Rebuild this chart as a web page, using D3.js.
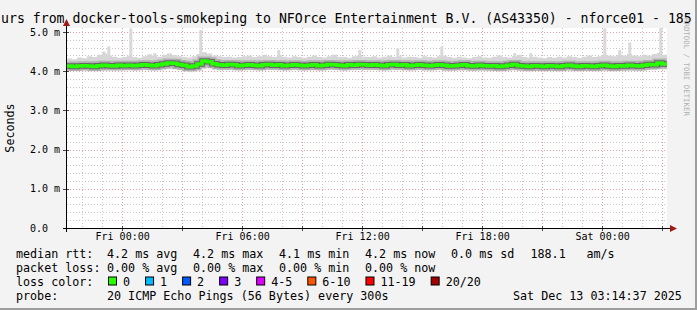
<!DOCTYPE html>
<html>
<head>
<meta charset="utf-8">
<script src="https://cdn.jsdelivr.net/npm/d3@7/dist/d3.min.js"></script>
<style>
body { margin: 0; background: #f3f3f3; }
text { font-family: "DejaVu Sans Mono", monospace; }
</style>
</head>
<body>
<script>
var width = 697;
var height = 310;
var plot = {left: 67, right: 667, top: 28, bottom: 228};

// time window: 30 hours ending at the graph timestamp
var endTime = new Date(2025, 11, 13, 3, 14, 37);
var startTime = new Date(endTime.getTime() - 30 * 3600 * 1000);
var binMinutes = 15;

// median rtt per 15 min bin (ms)
var median = [
  4.13,4.12,4.13,4.14,4.13,4.12,4.14,4.15,4.14,4.13,4.15,4.14,
  4.15,4.14,4.15,4.16,4.15,4.14,4.16,4.18,4.21,4.20,4.17,4.15,
  4.11,4.13,4.18,4.26,4.24,4.19,4.16,4.15,4.17,4.16,4.14,4.15,
  4.16,4.15,4.14,4.16,4.17,4.15,4.16,4.14,4.15,4.16,4.15,4.14,
  4.15,4.16,4.14,4.15,4.17,4.16,4.15,4.14,4.16,4.15,4.17,4.16,
  4.15,4.16,4.15,4.14,4.16,4.17,4.15,4.16,4.14,4.15,4.16,4.15,
  4.14,4.15,4.16,4.15,4.13,4.14,4.15,4.16,4.14,4.13,4.15,4.14,
  4.13,4.14,4.12,4.13,4.15,4.17,4.14,4.13,4.12,4.14,4.13,4.12,
  4.14,4.13,4.12,4.14,4.15,4.13,4.12,4.14,4.13,4.12,4.14,4.15,
  4.13,4.12,4.14,4.13,4.15,4.14,4.13,4.15,4.17,4.16,4.21,4.18
];

// upper edge of the smoke (ms)
var smokeHi = [
  4.32,4.30,4.35,4.33,4.38,4.36,4.42,4.45,4.40,4.37,4.34,4.36,
  4.40,4.36,4.34,4.38,4.43,4.40,4.37,4.42,4.45,4.41,4.38,4.36,
  4.35,4.38,4.44,4.48,4.45,4.40,4.38,4.36,4.37,4.35,4.36,4.38,
  4.40,4.36,4.38,4.42,4.38,4.36,4.40,4.37,4.35,4.38,4.36,4.34,
  4.37,4.40,4.36,4.35,4.38,4.42,4.37,4.36,4.34,4.38,4.40,4.37,
  4.36,4.38,4.35,4.37,4.40,4.36,4.38,4.35,4.37,4.36,4.34,4.38,
  4.36,4.35,4.38,4.40,4.36,4.34,4.37,4.35,4.33,4.36,4.38,4.35,
  4.34,4.37,4.40,4.36,4.35,4.38,4.42,4.36,4.34,4.37,4.35,4.33,
  4.36,4.34,4.37,4.35,4.38,4.36,4.34,4.37,4.40,4.36,4.38,4.42,
  4.40,4.38,4.42,4.40,4.44,4.40,4.38,4.42,4.40,4.44,4.46,4.42
];

// lower edge of the smoke (ms)
var smokeLo = [
  4.02,4.03,4.01,4.02,4.00,4.03,4.02,4.01,4.03,4.02,4.04,4.02,
  4.03,4.01,4.02,4.04,4.02,4.01,4.03,4.05,4.06,4.04,4.02,4.00,
  3.98,4.00,4.04,4.10,4.08,4.04,4.02,4.03,4.04,4.02,4.01,4.03,
  4.02,4.03,4.01,4.03,4.04,4.02,4.03,4.01,4.02,4.04,4.02,4.01,
  4.02,4.03,4.01,4.02,4.04,4.03,4.02,4.01,4.03,4.02,4.04,4.03,
  4.02,4.03,4.02,4.01,4.03,4.04,4.02,4.03,4.01,4.02,4.03,4.02,
  4.01,4.02,4.03,4.02,4.00,4.01,4.02,4.03,4.01,4.00,4.02,4.01,
  4.00,4.01,3.99,4.00,4.02,4.03,4.01,4.00,3.99,4.01,4.00,3.99,
  4.01,4.00,3.99,4.01,4.02,4.00,3.99,4.01,4.00,3.99,4.01,4.02,
  4.00,3.99,4.01,4.00,4.02,4.01,4.00,4.02,4.04,4.03,4.07,4.04
];

// single slow pings sticking out of the smoke
var spikes = [
  ["2025-12-11T23:05", 4.50], ["2025-12-11T23:20", 4.63],
  ["2025-12-12T00:26", 5.09], ["2025-12-12T01:38", 4.46],
  ["2025-12-12T03:56", 5.05], ["2025-12-12T07:50", 4.54],
  ["2025-12-12T11:53", 4.54], ["2025-12-12T13:47", 4.58],
  ["2025-12-12T15:59", 4.63], ["2025-12-12T19:38", 4.46],
  ["2025-12-12T20:26", 4.46], ["2025-12-13T00:08", 5.09],
  ["2025-12-13T00:53", 4.54], ["2025-12-13T01:23", 4.73],
  ["2025-12-13T02:56", 5.10]
];

var yTicks = [0, 1, 2, 3, 4, 5];
var statNames = ["avg", "max", "min", "now"];
var rttStats = [4.2, 4.2, 4.1, 4.2];
var lossStats = [0, 0, 0, 0];
var rttSd = 0.0;
var rttAms = 188.1;
var lossLabels = ["0", "1", "2", "3", "4-5", "6-10", "11-19", "20/20"];
var lossColors = ["#26ff00", "#00b8ff", "#0059ff", "#7e00ff", "#dd00ff", "#ff5500", "#ff0000", "#a10000"];

var parseTime = d3.timeParse("%Y-%m-%dT%H:%M");

var svg = d3.select("body")
  .append("svg")
  .attr("width", width)
  .attr("height", height);

// frame
svg.append("rect").attr("width", width).attr("height", height).attr("fill", "#f3f3f3");
svg.append("rect").attr("x", width - 2).attr("y", 0).attr("width", 2).attr("height", height).attr("fill", "#9e9e9e");
svg.append("rect").attr("x", 0).attr("y", height - 2).attr("width", width).attr("height", 2).attr("fill", "#9e9e9e");

var x = d3.scaleTime().domain([startTime, endTime]).range([plot.left, plot.right]);
var y = d3.scaleLinear().domain([0, 5.1]).range([plot.bottom, plot.top]);

svg.append("rect")
  .attr("x", plot.left).attr("y", plot.top)
  .attr("width", plot.right - plot.left).attr("height", plot.bottom - plot.top)
  .attr("fill", "white");

// grid
var grid = svg.append("g").attr("class", "grid").attr("shape-rendering", "crispEdges");
var hours = d3.timeHour.range(startTime, endTime);

grid.selectAll(".vminor")
  .data(hours.filter(d => d.getHours() % 3 != 0))
  .enter().append("line")
  .attr("x1", d => Math.round(x(d)) + 0.5).attr("x2", d => Math.round(x(d)) + 0.5)
  .attr("y1", plot.top).attr("y2", plot.bottom)
  .attr("stroke", "#c8c8c8").attr("stroke-dasharray", "1,2");

grid.selectAll(".hminor")
  .data(d3.range(1, 26).filter(i => i % 5 != 0).map(i => i * 0.2))
  .enter().append("line")
  .attr("x1", plot.left).attr("x2", plot.right)
  .attr("y1", d => Math.round(y(d)) + 0.5).attr("y2", d => Math.round(y(d)) + 0.5)
  .attr("stroke", "#c8c8c8").attr("stroke-dasharray", "1,2");

grid.selectAll(".vmajor")
  .data(hours.filter(d => d.getHours() % 3 == 0))
  .enter().append("line")
  .attr("x1", d => Math.round(x(d)) + 0.5).attr("x2", d => Math.round(x(d)) + 0.5)
  .attr("y1", plot.top).attr("y2", plot.bottom)
  .attr("stroke", "#eaa0a0").attr("stroke-dasharray", "1,2");

grid.selectAll(".hmajor")
  .data(yTicks.filter(d => d > 0))
  .enter().append("line")
  .attr("x1", plot.left).attr("x2", plot.right)
  .attr("y1", d => Math.round(y(d)) + 0.5).attr("y2", d => Math.round(y(d)) + 0.5)
  .attr("stroke", "#eaa0a0").attr("stroke-dasharray", "1,2");

// bins
var bins = median.map(function(m, i) {
  return {t: new Date(startTime.getTime() + i * binMinutes * 60000), m: m, hi: smokeHi[i], lo: smokeLo[i]};
});
var last = bins[bins.length - 1];
bins.push({t: endTime, m: last.m, hi: last.hi, lo: last.lo});

// spikes
svg.append("g").selectAll("rect")
  .data(spikes)
  .enter().append("rect")
  .attr("x", d => x(parseTime(d[0])) - 1.5)
  .attr("width", 3)
  .attr("y", d => y(d[1]))
  .attr("height", d => y(4.2) - y(d[1]))
  .attr("fill", "#d9d9d9");

// smoke
var smoke = d3.area()
  .curve(d3.curveStepAfter)
  .x(d => x(d.t))
  .y0(d => y(d.lo))
  .y1(d => y(d.hi));

svg.append("path").datum(bins).attr("d", smoke).attr("fill", "#d6d6d6");

var medLine = d3.line()
  .curve(d3.curveStepAfter)
  .x(d => x(d.t))
  .y(d => y(d.m));

svg.append("path").datum(bins).attr("d", medLine)
  .attr("fill", "none").attr("stroke", "#b0b0b0").attr("stroke-width", 9);
svg.append("path").datum(bins).attr("d", medLine)
  .attr("fill", "none").attr("stroke", "#666").attr("stroke-width", 5.5);
svg.append("path").datum(bins).attr("d", medLine)
  .attr("fill", "none").attr("stroke", lossColors[0]).attr("stroke-width", 3.5);

// axes
var xAxis = d3.axisBottom(x)
  .ticks(d3.timeHour.every(6))
  .tickFormat(d3.timeFormat("%a %H:%M"))
  .tickSize(0)
  .tickPadding(5);

var gx = svg.append("g")
  .attr("transform", "translate(0," + plot.bottom + ")")
  .call(xAxis);
gx.select(".domain").remove();
gx.selectAll("text").attr("font-family", "DejaVu Sans Mono").attr("font-size", 10).attr("fill", "#000");

var yAxis = d3.axisLeft(y)
  .tickValues(yTicks)
  .tickFormat(d => d == 0 ? "0.0" : d.toFixed(1) + " m")
  .tickSize(0)
  .tickPadding(0);

var gy = svg.append("g")
  .attr("transform", "translate(30,0)")
  .call(yAxis);
gy.select(".domain").remove();
gy.selectAll("text")
  .attr("x", 0)
  .attr("text-anchor", "start")
  .attr("font-family", "DejaVu Sans Mono").attr("font-size", 10).attr("fill", "#000");

// major tick marks
svg.append("g").selectAll("line")
  .data(hours.filter(d => d.getHours() % 3 == 0))
  .enter().append("line")
  .attr("x1", d => Math.round(x(d)) + 0.5).attr("x2", d => Math.round(x(d)) + 0.5)
  .attr("y1", plot.bottom - 2).attr("y2", plot.bottom + 3)
  .attr("stroke", "#444");
svg.append("g").selectAll("line")
  .data(yTicks)
  .enter().append("line")
  .attr("x1", plot.left - 4).attr("x2", plot.left + 2)
  .attr("y1", d => Math.round(y(d)) + 0.5).attr("y2", d => Math.round(y(d)) + 0.5)
  .attr("stroke", "#444");

// axis lines with arrows
svg.append("line")
  .attr("x1", plot.left - 4).attr("x2", plot.right + 3)
  .attr("y1", plot.bottom + 0.5).attr("y2", plot.bottom + 0.5)
  .attr("stroke", "#000");
svg.append("line")
  .attr("x1", plot.left - 0.5).attr("x2", plot.left - 0.5)
  .attr("y1", plot.bottom + 4).attr("y2", plot.top - 3)
  .attr("stroke", "#000");
svg.append("path")
  .attr("d", "M" + (plot.right + 3) + "," + (plot.bottom - 3) + "L" + (plot.right + 10) + "," + (plot.bottom + 0.5) + "L" + (plot.right + 3) + "," + (plot.bottom + 4) + "Z")
  .attr("fill", "#a01818");
svg.append("path")
  .attr("d", "M" + (plot.left - 4) + "," + (plot.top - 2) + "L" + (plot.left - 0.5) + "," + (plot.top - 9) + "L" + (plot.left + 3) + "," + (plot.top - 2) + "Z")
  .attr("fill", "#a01818");

// title (wider than the canvas, clipped on both sides)
svg.append("text")
  .attr("x", 1).attr("y", 23)
  .attr("font-size", 13.2)
  .attr("xml:space", "preserve")
  .text("urs from docker-tools-smokeping to NFOrce Entertainment B.V. (AS43350) - nforce01 - 185");

svg.append("text")
  .attr("transform", "translate(14," + ((plot.top + plot.bottom) / 2) + ")rotate(-90)")
  .attr("text-anchor", "middle")
  .attr("font-size", 11.7)
  .text("Seconds");

svg.append("text")
  .attr("transform", "translate(683.5,18)rotate(90)")
  .attr("font-size", 7.4)
  .attr("fill", "#b0b0b0")
  .text("RRDTOOL / TOBI OETIKER");

// legend
var legend = svg.append("g").attr("font-size", 11.7).attr("fill", "#000");
var rows = [257.5, 271.5, 285.5, 299.5];

legend.append("text").attr("x", 16).attr("y", rows[0]).text("median rtt:");
statNames.forEach(function(s, i) {
  legend.append("text").attr("x", 107 + i * 86).attr("y", rows[0])
    .text(rttStats[i].toFixed(1) + " ms " + s);
});
legend.append("text").attr("x", 451).attr("y", rows[0]).text(rttSd.toFixed(1) + " ms sd");
legend.append("text").attr("x", 530.5).attr("y", rows[0]).text(rttAms.toFixed(1));
legend.append("text").attr("x", 586.5).attr("y", rows[0]).text("am/s");

legend.append("text").attr("x", 16).attr("y", rows[1]).text("packet loss:");
statNames.forEach(function(s, i) {
  legend.append("text").attr("x", 107 + i * 86).attr("y", rows[1])
    .text(lossStats[i].toFixed(2) + " % " + s);
});

legend.append("text").attr("x", 16).attr("y", rows[2]).text("loss color:");
var cursor = 108;
lossLabels.forEach(function(l, i) {
  legend.append("rect")
    .attr("x", cursor + 0.5).attr("y", rows[2] - 8.5)
    .attr("width", 8).attr("height", 8)
    .attr("fill", lossColors[i]).attr("stroke", "#000");
  var t = legend.append("text").attr("x", cursor + 15).attr("y", rows[2]).text(l);
  cursor = cursor + 15 + t.node().getComputedTextLength() + 15;
});

legend.append("text").attr("x", 16).attr("y", rows[3]).text("probe:");
legend.append("text").attr("x", 107).attr("y", rows[3]).text("20 ICMP Echo Pings (56 Bytes) every 300s");
legend.append("text").attr("x", 513).attr("y", rows[3]).text("Sat Dec 13 03:14:37 2025");
</script>
</body>
</html>
